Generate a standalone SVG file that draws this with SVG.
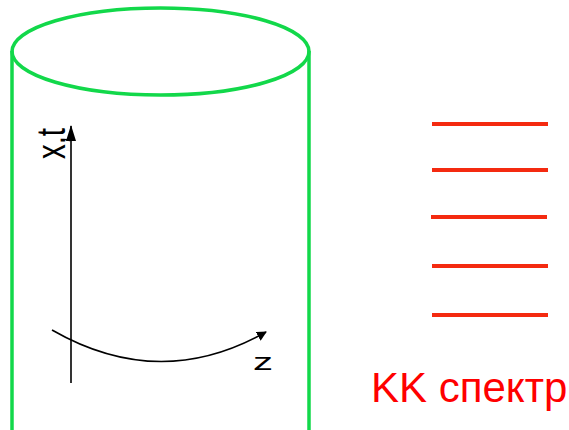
<svg xmlns="http://www.w3.org/2000/svg" width="569" height="430" viewBox="0 0 569 430">
<style>
.cyl{fill:none;stroke:#12d84a;stroke-width:3.5}
.axis{fill:none;stroke:#000;stroke-width:1.6}
.lvl{stroke:#f42a10;stroke-width:4}
.lbl{font-family:"Liberation Sans",Arial,sans-serif;fill:#000}
</style>
<defs>
<marker id="ah" viewBox="0 0 10 10" refX="9" refY="5" markerWidth="10" markerHeight="10" markerUnits="userSpaceOnUse" orient="auto">
<path d="M0,0 L10,5 L0,10 Z" fill="#000"/>
</marker>
<marker id="ah2" viewBox="0 0 16 10" refX="15" refY="5" markerWidth="16" markerHeight="10" markerUnits="userSpaceOnUse" orient="auto">
<path d="M0,0 L16,5 L0,10 Z" fill="#000"/>
</marker>
</defs>
<g id="cylinder">
<ellipse class="cyl" cx="160.5" cy="51.5" rx="148.5" ry="43.5"/>
<line class="cyl" x1="12" y1="51" x2="12" y2="430"/>
<line class="cyl" x1="309" y1="51" x2="309" y2="430"/>
</g>
<g id="connectors">
<line class="axis" x1="71" y1="383" x2="71" y2="126" marker-end="url(#ah2)"/>
<path class="axis" d="M52,330 Q160,392 266,332" marker-end="url(#ah)"/>
</g>
<g id="labels">
<text class="lbl" font-size="40" transform="translate(65,159) rotate(-90)" textLength="31" lengthAdjust="spacingAndGlyphs">x,t</text>
<text class="lbl" font-size="23" x="253" y="370" textLength="20" lengthAdjust="spacingAndGlyphs">z</text>
</g>
<g id="spectrum">
<line class="lvl" x1="432" y1="124" x2="548" y2="124"/>
<line class="lvl" x1="432" y1="170" x2="548" y2="170"/>
<line class="lvl" x1="431" y1="217" x2="547" y2="217"/>
<line class="lvl" x1="432" y1="266" x2="548" y2="266"/>
<line class="lvl" x1="432" y1="315" x2="548" y2="315"/>
<text x="371" y="402" font-family="Liberation Sans,Arial,sans-serif" font-size="42" fill="#ff0000">KK спектр</text>
</g>
</svg>
